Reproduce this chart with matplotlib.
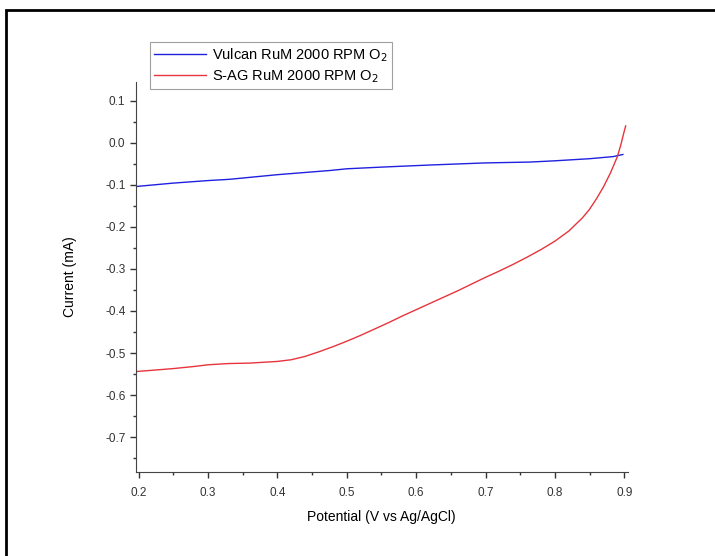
import numpy as np
import matplotlib.pyplot as plt
from matplotlib.patches import Rectangle
from matplotlib.ticker import MultipleLocator

plt.rcParams['font.family'] = ['Liberation Sans', 'DejaVu Sans']

# Vulcan RuM, 2000 RPM, O2
vx = [0.197, 0.25, 0.30, 0.331, 0.40, 0.476, 0.50, 0.55, 0.62, 0.70, 0.764, 0.80, 0.85, 0.884, 0.898]
vy = [-0.104, -0.096, -0.090, -0.087, -0.076, -0.066, -0.062, -0.058, -0.053, -0.048, -0.046, -0.043, -0.038, -0.033, -0.028]

# S-AG RuM, 2000 RPM, O2
sx = [0.197, 0.22, 0.25, 0.28, 0.30, 0.33, 0.36, 0.38, 0.40, 0.42, 0.44, 0.46, 0.48, 0.50,
      0.52, 0.54, 0.56, 0.58, 0.60, 0.62, 0.64, 0.66, 0.68, 0.70, 0.72, 0.74, 0.76, 0.78,
      0.80, 0.82, 0.84, 0.85, 0.86, 0.87, 0.88, 0.89, 0.895, 0.90, 0.902]
sy = [-0.544, -0.541, -0.537, -0.532, -0.528, -0.525, -0.524, -0.522, -0.520, -0.516, -0.508, -0.497,
      -0.485, -0.472, -0.458, -0.443, -0.428, -0.412, -0.397, -0.382, -0.367, -0.352, -0.336, -0.320,
      -0.305, -0.289, -0.272, -0.254, -0.234, -0.210, -0.178, -0.158, -0.133, -0.105, -0.072, -0.033,
      -0.005, 0.028, 0.040]

fig = plt.figure(figsize=(7.15, 5.56), dpi=100)
ax = fig.add_axes([0.190, 0.151, 0.688, 0.702])

ax.plot(vx, vy, color='#2020e0', lw=1.0, label='Vulcan RuM 2000 RPM O$_2$')
ax.plot(sx, sy, color='#e8343c', lw=1.0, label='S-AG RuM 2000 RPM O$_2$')

ax.set_xlim(0.196, 0.905)
ax.set_ylim(-0.783, 0.145)
ax.xaxis.set_major_locator(MultipleLocator(0.1))
ax.xaxis.set_minor_locator(MultipleLocator(0.05))
ax.yaxis.set_major_locator(MultipleLocator(0.1))
ax.yaxis.set_minor_locator(MultipleLocator(0.05))
ax.xaxis.set_major_formatter(plt.FuncFormatter(lambda v, p: '%.1f' % v))
ax.yaxis.set_major_formatter(plt.FuncFormatter(lambda v, p: '%.1f' % v))
ax.tick_params(which='major', direction='out', length=4, width=1, labelsize=8.5, colors='#333333')
ax.tick_params(axis='x', which='major', pad=7)
ax.tick_params(which='minor', direction='out', length=2.5, width=1, colors='#333333')
ax.spines['top'].set_visible(False)
ax.spines['right'].set_visible(False)
ax.spines['left'].set_color('#444444')
ax.spines['bottom'].set_color('#444444')

ax.set_xlabel('Potential (V vs Ag/AgCl)', fontsize=10, labelpad=8)
ax.set_ylabel('Current (mA)', fontsize=10, labelpad=20)

leg = ax.legend(loc='upper left', bbox_to_anchor=(0.013, 1.121), fontsize=10.5,
                frameon=True, fancybox=False, handlelength=3.6, borderpad=0.3,
                labelspacing=0.3, handletextpad=0.4)
leg.get_frame().set_edgecolor('#888888')
leg.get_frame().set_linewidth(0.8)

# outer frame of the figure (cut off at right and bottom)
fig.patches.append(Rectangle((6 / 715, -0.05), 1.2, 0.982 + 0.05, transform=fig.transFigure,
                             fill=False, edgecolor='black', lw=2))

fig.savefig('out.png', dpi=100)
